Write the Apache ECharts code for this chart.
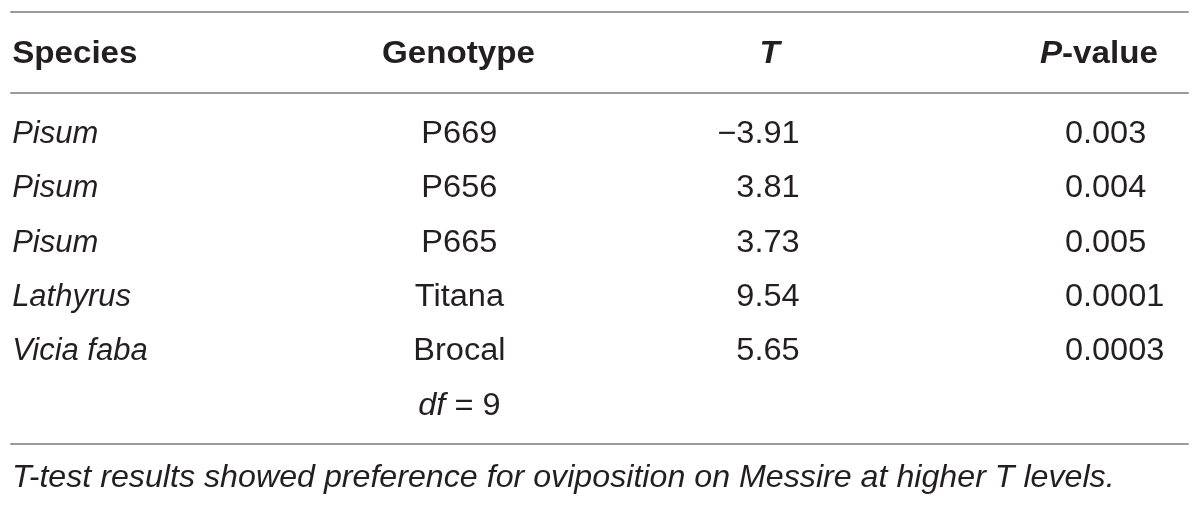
<!DOCTYPE html>
<html>
<head>
<meta charset="utf-8">
<script src="https://cdn.jsdelivr.net/npm/echarts@6/dist/echarts.min.js"></script>
<style>
  html, body { margin: 0; padding: 0; background: #fff; }
  #table { width: 1200px; height: 507px; }
</style>
</head>
<body>
<div id="table"></div>
<script>
// table content
const columns = ['Species', 'Genotype', 'T', 'P-value']
const species = ['Pisum', 'Pisum', 'Pisum', 'Lathyrus', 'Vicia faba']
const genotypes = ['P669', 'P656', 'P665', 'Titana', 'Brocal']
const tValues = [-3.91, 3.81, 3.73, 9.54, 5.65]
const pValues = ['0.003', '0.004', '0.005', '0.0001', '0.0003']
const dfText = 'df = 9'
const footnote = 'T-test results showed preference for oviposition on Messire at higher T levels.'

const FONT = '"Liberation Sans", Arial, Helvetica, sans-serif'
const INK = '#231f20'
const RULE = '#9b9b9b'
const SIZE = 31

// per column: how the text sits in its band
const headAlign = [
  { align: 'left', dx: -146 },
  { align: 'center', dx: 6 },
  { align: 'center', dx: 23 },
  { align: 'center', dx: 58 },
]
const bodyAlign = [
  { align: 'left', dx: -146 },
  { align: 'center', dx: 7 },
  { align: 'right', dx: 53 },
  { align: 'left', dx: 24 },
]

const fmtT = (v) => (v < 0 ? '\u2212' + Math.abs(v).toFixed(2) : v.toFixed(2))

// header cells
const headCells = columns.map((c, i) => {
  let text = c
  if (c === 'T') text = '{bi|T}'
  if (c === 'P-value') text = '{bi|P}-value'
  return { value: [i, 0], text: text }
})

// body cells
const bodyCells = []
species.forEach((s, r) => {
  bodyCells.push({ value: [0, r], text: s, italic: true })
  bodyCells.push({ value: [1, r], text: genotypes[r] })
  bodyCells.push({ value: [2, r], text: fmtT(tValues[r]) })
  bodyCells.push({ value: [3, r], text: pValues[r] })
})
bodyCells.push({ value: [1, species.length], text: '{i|df}' + dfText.slice(2) })

function cellRenderer(cells, alignSet, bold, stretch, dy) {
  return function (params, api) {
    const cell = cells[params.dataIndex]
    const col = api.value(0)
    const pt = api.coord([col, api.value(1)])
    const a = alignSet[col]
    return {
      type: 'text',
      x: pt[0] + a.dx,
      y: pt[1] + dy,
      // italic names already run as wide as the source, upright text runs a little narrow
      scaleX: cell.italic ? 1 : stretch,
      style: {
        text: cell.text,
        fill: INK,
        fontFamily: FONT,
        fontSize: SIZE,
        fontWeight: bold ? 'bold' : 'normal',
        fontStyle: cell.italic ? 'italic' : 'normal',
        align: a.align,
        verticalAlign: 'middle',
        rich: {
          bi: { fontFamily: FONT, fontSize: SIZE, fontWeight: 'bold', fontStyle: 'italic', fill: INK },
          i: { fontFamily: FONT, fontSize: SIZE, fontStyle: 'italic', fill: INK },
        },
      },
    }
  }
}

const ruleAxis = (gridIndex, position) => ({
  type: 'category',
  gridIndex: gridIndex,
  position: position,
  data: columns,
  axisLine: { show: true, onZero: false, lineStyle: { color: RULE, width: 2 } },
  axisTick: { show: false },
  axisLabel: { show: false },
  splitLine: { show: false },
})

const chart = echarts.init(document.getElementById('table'))
chart.setOption({
  animation: false,
  backgroundColor: '#fff',
  title: {
    text: footnote,
    left: 7,
    top: 457,
    textStyle: { fontFamily: FONT, fontSize: 32.2, fontStyle: 'italic', fontWeight: 'normal', color: INK },
  },
  grid: [
    { left: 11, right: 12, top: 12, height: 81 },
    { left: 11, right: 12, top: 93, height: 351 },
  ],
  xAxis: [ruleAxis(0, 'top'), ruleAxis(1, 'top'), ruleAxis(1, 'bottom')],
  yAxis: [
    { type: 'category', gridIndex: 0, data: ['head'], show: false },
    { type: 'value', gridIndex: 1, inverse: true, min: -0.76, max: 5.7, show: false },
  ],
  series: [
    {
      type: 'custom',
      xAxisIndex: 0,
      yAxisIndex: 0,
      data: headCells.map((c) => c.value),
      renderItem: cellRenderer(headCells, headAlign, true, 1.07, 2),
    },
    {
      type: 'custom',
      xAxisIndex: 1,
      yAxisIndex: 1,
      data: bodyCells.map((c) => c.value),
      renderItem: cellRenderer(bodyCells, bodyAlign, false, 1.05, 0),
    },
  ],
})
</script>
</body>
</html>
